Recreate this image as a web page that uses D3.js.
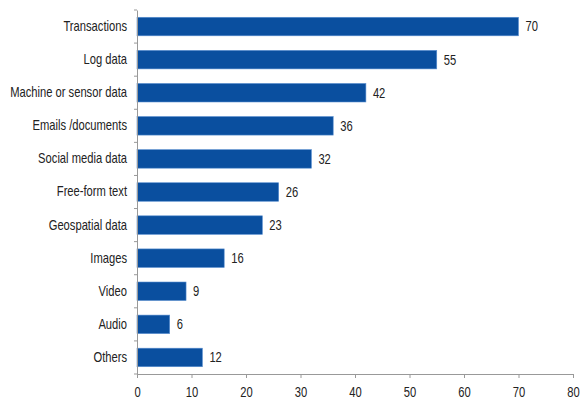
<!DOCTYPE html>
<html>
<head>
<meta charset="utf-8">
<script src="https://cdn.jsdelivr.net/npm/d3@7"></script>
<style>
  body { margin: 0; background: #fff; }
  text { font-family: "Liberation Sans", Arial, sans-serif; fill: #222; }
</style>
</head>
<body>
<div id="chart"></div>
<script>
const categories = ['Transactions', 'Log data', 'Machine or sensor data', 'Emails /documents',
  'Social media data', 'Free-form text', 'Geospatial data', 'Images', 'Video', 'Audio', 'Others'];
const values = [70, 55, 42, 36, 32, 26, 23, 16, 9, 6, 12];
const xTicks = [0, 10, 20, 30, 40, 50, 60, 70, 80];

const data = categories.map((c, i) => ({ category: c, value: values[i] }));

const narrow = 0.8; // horizontal squeeze to mimic a narrow font
const fontSize = 14;

const margin = { top: 10, right: 14, bottom: 27, left: 137 };
const width = 587 - margin.left - margin.right;
const height = 401 - margin.top - margin.bottom;

const svg = d3.select('#chart')
  .append('svg')
  .attr('width', 587)
  .attr('height', 401)
  .append('g')
  .attr('transform', `translate(${margin.left},${margin.top})`);

const xScale = d3.scaleLinear().domain([0, 80]).range([0, width]);
const yScale = d3.scaleBand().domain(categories).range([0, height]).paddingInner(0.44).paddingOuter(0.22);

// squeeze a text horizontally while keeping its anchor point
function squeeze(sel) {
  sel.each(function () {
    const t = d3.select(this);
    const x = +t.attr('x') || 0;
    t.attr('x', x / narrow).attr('transform', `scale(${narrow},1)`);
  });
}

// bars
svg.selectAll('.bar')
  .data(data)
  .enter()
  .append('rect')
  .attr('class', 'bar')
  .attr('x', 0)
  .attr('y', d => yScale(d.category))
  .attr('width', d => xScale(d.value))
  .attr('height', yScale.bandwidth())
  .attr('fill', '#0a4f9f')
  .attr('stroke', '#5a8fd0')
  .attr('stroke-width', 0.6);

// value labels
svg.selectAll('.val')
  .data(data)
  .enter()
  .append('text')
  .attr('class', 'val')
  .attr('x', d => xScale(d.value) + 7)
  .attr('y', d => yScale(d.category) + yScale.bandwidth() / 2)
  .attr('dy', '0.35em')
  .attr('font-size', fontSize)
  .text(d => d.value)
  .call(squeeze);

// x axis
const xAxis = svg.append('g')
  .attr('transform', `translate(0,${height})`)
  .call(d3.axisBottom(xScale).tickValues(xTicks).tickSize(4).tickPadding(9));
xAxis.selectAll('text').attr('font-size', fontSize).style('fill', '#222').call(squeeze);

// y axis, ticks at category boundaries
const yAxis = svg.append('g')
  .call(d3.axisLeft(yScale).tickSize(0).tickPadding(10));
yAxis.selectAll('text').attr('font-size', fontSize).style('fill', '#222').call(squeeze);

const bounds = d3.range(categories.length + 1).map(i => i * height / categories.length);
yAxis.selectAll('.bound')
  .data(bounds)
  .enter()
  .append('line')
  .attr('class', 'bound')
  .attr('x1', -3)
  .attr('x2', 0)
  .attr('y1', d => d)
  .attr('y2', d => d)
  .attr('stroke', '#999');

svg.selectAll('.domain').attr('stroke', '#999');
xAxis.selectAll('.tick line').attr('stroke', '#999');
</script>
</body>
</html>
